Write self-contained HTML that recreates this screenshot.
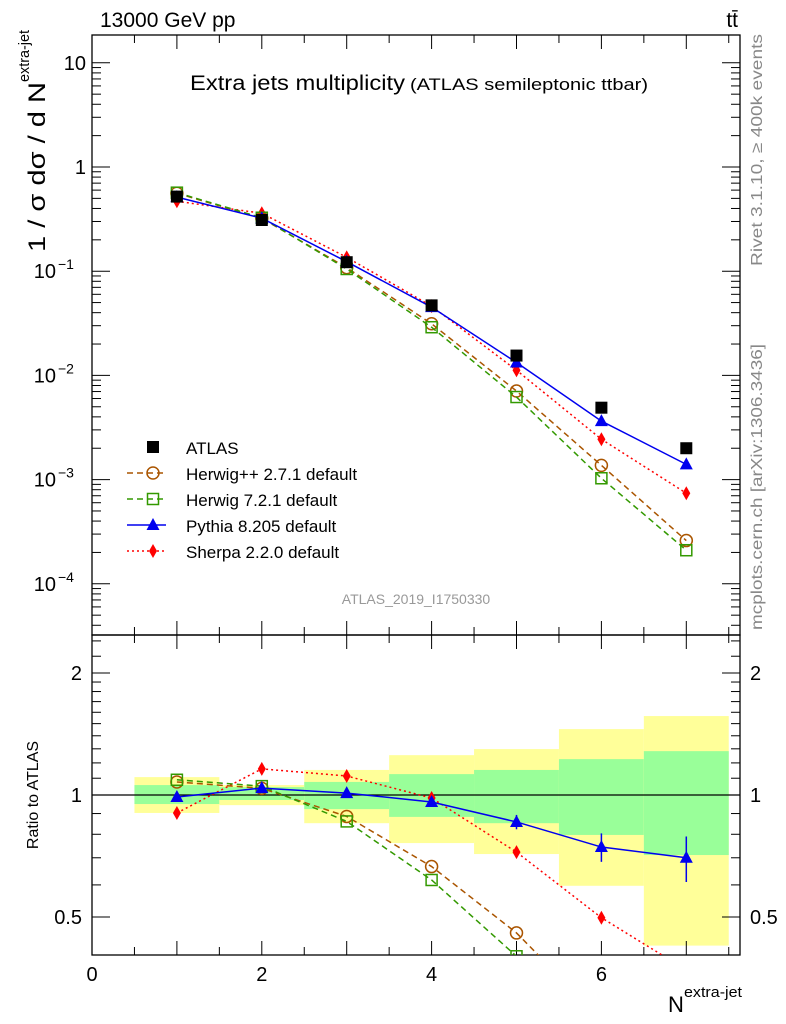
<!DOCTYPE html>
<html><head><meta charset="utf-8"><style>
html,body{margin:0;background:#fff;overflow:hidden;width:786px;height:1024px;}
svg{display:block;font-family:"Liberation Sans",sans-serif;}
</style></head><body>
<svg id="c" width="786" height="1024" xmlns="http://www.w3.org/2000/svg"></svg>
<script>
const xs=[1,2,3,4,5,6,7];
const atlas=[0.52,0.31,0.122,0.047,0.0155,0.0049,0.0020];
const herwigpp=[0.560,0.322,0.108,0.0313,0.00708,0.00137,0.00026];
const herwig7=[0.567,0.326,0.105,0.0290,0.0062,0.00103,0.00021];
const pythiaRatio=[0.989,1.04,1.011,0.961,0.858,0.744,0.70];
const pythiaErr=[0.01,0.01,0.01,0.015,0.035,0.06,0.09];
const sherpaRatio=[0.903,1.16,1.114,0.983,0.723,0.498,0.37];
const yellowLo=[0.903,0.944,0.852,0.761,0.715,0.597,0.425];
const yellowHi=[1.107,1.058,1.153,1.254,1.298,1.454,1.566];
const greenLo=[0.95,0.972,0.923,0.883,0.852,0.797,0.711];
const greenHi=[1.058,1.046,1.077,1.126,1.153,1.226,1.283];
const yTicks=[10,1,0.1,0.01,0.001,0.0001];
const yTickLabels=["10","1","10^-1","10^-2","10^-3","10^-4"];
const xTicks=[0,2,4,6];
const rTicks=[0.5,1,2];

const svg=document.getElementById('c');
const NS='http://www.w3.org/2000/svg';
function el(t,a,p){const e=document.createElementNS(NS,t);for(const k in a)e.setAttribute(k,a[k]);(p||svg).appendChild(e);return e;}
const L=92,R=740,T=35,M=635,B=955;
const X=v=>L+v*84.9;
const Y=v=>167-Math.log10(v)*104.2;
const RY=v=>795-Math.log2(v)*122;
const pythia=pythiaRatio.map((r,i)=>r*atlas[i]);
const sherpa=sherpaRatio.map((r,i)=>r*atlas[i]);

const defs=el('defs',{});
const c1=el('clipPath',{id:'cm'},defs);el('rect',{x:L,y:T,width:R-L,height:M-T},c1);
const c2=el('clipPath',{id:'cr'},defs);el('rect',{x:L,y:M,width:R-L,height:B-M},c2);

const bands=el('g',{'clip-path':'url(#cr)'});


xs.forEach((x,i)=>{
  const y=el('rect',{x:X(x-0.5),y:RY(yellowHi[i]),width:X(x+0.5)-X(x-0.5),height:RY(yellowLo[i])-RY(yellowHi[i]),fill:'#ffff99'},bands);
  
  
  const g=el('rect',{x:X(x-0.5),y:RY(greenHi[i]),width:X(x+0.5)-X(x-0.5),height:RY(greenLo[i])-RY(greenHi[i]),fill:'#99ff99'},bands);
  
  
});
el('line',{x1:L,x2:R,y1:RY(1),y2:RY(1),stroke:'#000','stroke-width':1.3});

el('rect',{x:L,y:T,width:R-L,height:M-T,fill:'none',stroke:'#000','stroke-width':1.3});
el('rect',{x:L,y:M,width:R-L,height:B-M,fill:'none',stroke:'#000','stroke-width':1.3});

yTicks.forEach((v,i)=>{
  const y=Y(v);
  el('line',{x1:L,x2:L+18,y1:y,y2:y,stroke:'#000'});el('line',{x1:R-18,x2:R,y1:y,y2:y,stroke:'#000'});
  for(let k=2;k<10;k++){const yy=Y(v*k);if(v*k<=20&&yy>T){el('line',{x1:L,x2:L+9,y1:yy,y2:yy,stroke:'#000'});el('line',{x1:R-9,x2:R,y1:yy,y2:yy,stroke:'#000'});}}
  const lab=yTickLabels[i];
  const t=el('text',{x:L-6,y:y+7,'text-anchor':'end','font-size':20});
  
  
  if(lab.includes('^')){const [b,e]=lab.split('^');t.setAttribute('x',L-36);t.textContent=b;const s=el('text',{x:L-34,y:y-2,'font-size':14},svg);s.textContent=e.replace('-','−');}
  else t.textContent=lab;
});
for(let k=4;k<10;k++){const yy=Y(k*1e-5);if(yy<M){el('line',{x1:L,x2:L+9,y1:yy,y2:yy,stroke:'#000'});el('line',{x1:R-9,x2:R,y1:yy,y2:yy,stroke:'#000'});}}

for(let v=0.5;v<=7.6;v+=0.5){
  const big=Math.abs(v-Math.round(v))<0.01;
  const len=big?14:8;
  [[M,1],[B,-1],[T,1],[M,-1]].forEach(([y0,d])=>el('line',{x1:X(v),x2:X(v),y1:y0,y2:y0+d*len,stroke:'#000'}));
}
xTicks.forEach(v=>{const t=el('text',{x:X(v),y:B+26,'text-anchor':'middle','font-size':20});t.textContent=v;

});
rTicks.forEach(v=>{const y=RY(v);
el('line',{x1:L,x2:L+18,y1:y,y2:y,stroke:'#000'});el('line',{x1:R-18,x2:R,y1:y,y2:y,stroke:'#000'});
const t=el('text',{x:L-10,y:y+7,'text-anchor':'end','font-size':20});t.textContent=v;


const t2=el('text',{x:R+10,y:y+7,'font-size':20});t2.textContent=v;

});
[0.6,0.7,0.8,0.9,1.1,1.2,1.3,1.4,1.5,1.6,1.7,1.8,1.9,2.2,2.4].forEach(v=>{const y=RY(v);el('line',{x1:L,x2:L+9,y1:y,y2:y,stroke:'#000'});el('line',{x1:R-9,x2:R,y1:y,y2:y,stroke:'#000'});});

function marker(g,type,x,y,c){
  if(type==='sq')el('rect',{x:x-6,y:y-6,width:12,height:12,fill:c},g);
  if(type==='osq')el('rect',{x:x-5.5,y:y-5.5,width:11,height:11,fill:'none',stroke:c,'stroke-width':1.5},g);
  if(type==='oc')el('circle',{cx:x,cy:y,r:6,fill:'none',stroke:c,'stroke-width':1.5},g);
  if(type==='tri')el('polygon',{points:`${x},${y-7} ${x-6.5},${y+5} ${x+6.5},${y+5}`,fill:c},g);
  if(type==='dia')el('polygon',{points:`${x},${y-7} ${x-4},${y} ${x},${y+7} ${x+4},${y}`,fill:c},g);
}
function series(name,vals,fy,clip,c,dash,type){
  const g=el('g',{'clip-path':'url(#'+clip+')'});
  
  
  if(dash!==null)el('polyline',{points:xs.map((x,i)=>X(x)+','+fy(vals[i])).join(' '),fill:'none',stroke:c,'stroke-width':1.5,'stroke-dasharray':dash},g);
  xs.forEach((x,i)=>marker(g,type,X(x),fy(vals[i]),c));
  return g;
}
series('sherpa-main',sherpa,Y,'cm','#ff0000','2,3','dia');
series('herwigpp-main',herwigpp,Y,'cm','#aa5500','6,4','oc');
series('herwig7-main',herwig7,Y,'cm','#339900','6,4','osq');
series('pythia-main',pythia,Y,'cm','#0000ee','','tri');
series('atlas-data',atlas,Y,'cm','#000',null,'sq');
series('sherpa-ratio',sherpaRatio,RY,'cr','#ff0000','2,3','dia');
series('herwigpp-ratio',herwigpp.map((v,i)=>v/atlas[i]),RY,'cr','#aa5500','6,4','oc');
series('herwig7-ratio',herwig7.map((v,i)=>v/atlas[i]),RY,'cr','#339900','6,4','osq');
const pr=series('pythia-ratio',pythiaRatio,RY,'cr','#0000ee','','tri');
xs.forEach((x,i)=>{el('line',{x1:X(x),x2:X(x),y1:RY(pythiaRatio[i]+pythiaErr[i]),y2:RY(pythiaRatio[i]-pythiaErr[i]),stroke:'#0000ee','stroke-width':1.5},pr);});

const legend=[['ATLAS','#000',null,'sq'],['Herwig++ 2.7.1 default','#aa5500','6,4','oc'],['Herwig 7.2.1 default','#339900','6,4','osq'],['Pythia 8.205 default','#0000ee','','tri'],['Sherpa 2.2.0 default','#ff0000','2,3','dia']];
legend.forEach((l,i)=>{const y=447+i*26;const g=el('g',{});


if(l[2]!==null)el('line',{x1:127,x2:166,y1:y,y2:y,stroke:l[1],'stroke-width':1.5,'stroke-dasharray':l[2]},g);
marker(g,l[3],153,y,l[1]);
const t=el('text',{x:186,y:y+7,'font-size':17},g);t.textContent=l[0];});

function txt(s,a,name){const t=el('text',a);t.textContent=s;

return t;}
txt('13000 GeV pp',{x:100,y:27,'font-size':21},'energy-label');
txt('tt̄',{x:738,y:27,'font-size':21,'text-anchor':'end'},'process-label');
txt('Extra jets multiplicity',{x:190,y:90,'font-size':21,textLength:215,lengthAdjust:'spacingAndGlyphs'},'plot-title');
txt('(ATLAS semileptonic ttbar)',{x:410,y:90,'font-size':17,textLength:238,lengthAdjust:'spacingAndGlyphs'},'plot-subtitle');
txt('ATLAS_2019_I1750330',{x:416,y:604,'font-size':14,fill:'#999','text-anchor':'middle'},'analysis-id');
txt('Ratio to ATLAS',{x:38,y:795,'font-size':16,'text-anchor':'middle',transform:'rotate(-90 38 795)'},'ratio-y-title');
txt('1 / σ dσ / d N',{x:45,y:252,'font-size':24,textLength:170,lengthAdjust:'spacingAndGlyphs',transform:'rotate(-90 45 252)'},'y-axis-title');
txt('extra-jet',{x:29,y:82,'font-size':15,textLength:52,lengthAdjust:'spacingAndGlyphs',transform:'rotate(-90 29 82)'},'y-axis-title-sup');
txt('N',{x:668,y:1012,'font-size':22},'x-axis-title');
txt('extra-jet',{x:684,y:997,'font-size':15,textLength:58,lengthAdjust:'spacingAndGlyphs'},'x-axis-title-sup');
txt('Rivet 3.1.10, ≥ 400k events',{x:762,y:266,'font-size':16,fill:'#888',textLength:232,lengthAdjust:'spacingAndGlyphs',transform:'rotate(-90 762 266)'},'rivet-label');
txt('mcplots.cern.ch [arXiv:1306.3436]',{x:762,y:630,'font-size':16,fill:'#888',textLength:286,lengthAdjust:'spacingAndGlyphs',transform:'rotate(-90 762 630)'},'mcplots-label');
</script>
</body></html>
